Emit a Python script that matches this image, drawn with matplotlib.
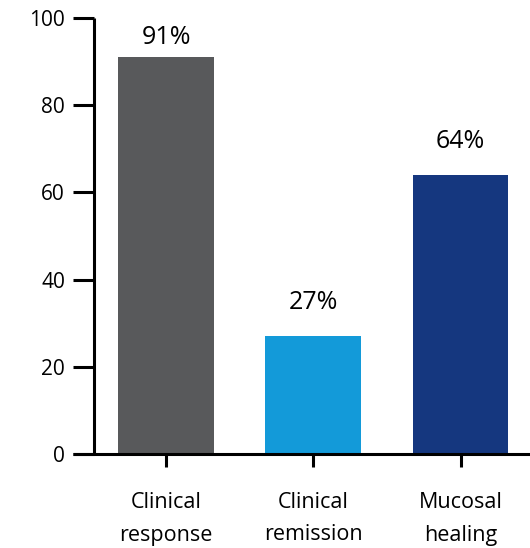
import matplotlib
matplotlib.use("Agg")
import matplotlib.pyplot as plt

# Outcome rates (%)
categories = ["Clinical\nresponse", "Clinical\nremission", "Mucosal\nhealing"]
rates = [91, 27, 64]
bar_colors = ["#58595b", "#139ad9", "#15377f"]
label_gaps = [5, 15, 15]  # points between bar top and its value label

plt.rcParams["font.family"] = ["Open Sans", "DejaVu Sans"]

fig = plt.figure(figsize=(5.3, 5.48), dpi=100)
ax = fig.add_axes([73 / 530, 94 / 548, 457 / 530, 436 / 548])

x = list(range(len(categories)))
bars = ax.bar(x, rates, width=0.65, color=bar_colors, zorder=2)

for rect, val, gap in zip(bars, rates, label_gaps):
    ax.annotate(f"{val}%", (rect.get_x() + rect.get_width() / 2, val),
                xytext=(0, gap), textcoords="offset points",
                ha="center", va="bottom", fontsize=18)

ax.set_xlim(-0.632, 2.472)
ax.set_ylim(0, 100)
ax.set_yticks([0, 20, 40, 60, 80, 100])
ax.set_xticks(x)
ax.set_xticklabels(categories, fontsize=15.5, linespacing=1.75)

ax.spines["top"].set_visible(False)
ax.spines["right"].set_visible(False)
ax.spines["left"].set_position(("data", -0.489))
for side in ("left", "bottom"):
    ax.spines[side].set_linewidth(2.2)
    ax.spines[side].set_capstyle("butt")

ax.tick_params(axis="y", length=15, width=2.2, labelsize=15, pad=6)
ax.tick_params(axis="x", length=9, width=2.2, pad=18)

fig.savefig("out.png", dpi=100)
